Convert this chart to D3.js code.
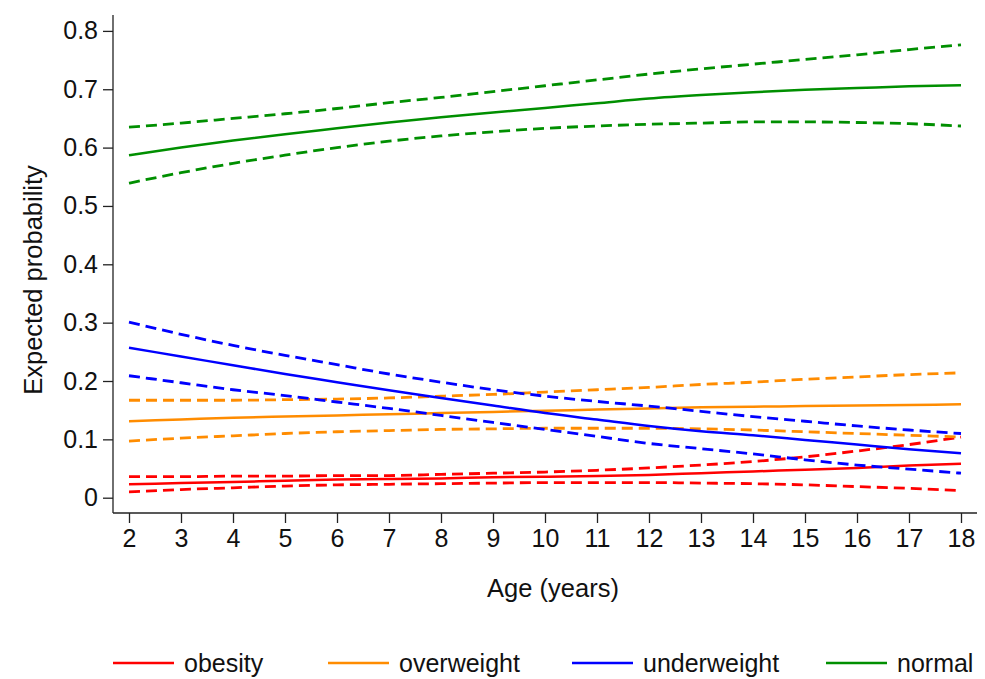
<!DOCTYPE html>
<html><head><meta charset="utf-8">
<script src="https://cdn.jsdelivr.net/npm/d3@7"></script>
<style>html,body{margin:0;padding:0;background:#fff;}svg{display:block;font-family:"Liberation Sans",Arial,Helvetica,sans-serif;}</style>
</head><body>
<svg id="chart" width="985" height="679"></svg>
<script>
const ages = [2,3,4,5,6,7,8,9,10,11,12,13,14,15,16,17,18];
const yTicks = [0,0.1,0.2,0.3,0.4,0.5,0.6,0.7,0.8];
const categories = ["obesity","overweight","underweight","normal"];
const colors = ["#ff0000","#ff8c00","#0000ff","#008f00"];

const obesityMean  = [0.023,0.025,0.027,0.029,0.031,0.032,0.033,0.035,0.036,0.037,0.039,0.042,0.045,0.048,0.051,0.055,0.058];
const obesityUpper = [0.036,0.036,0.037,0.037,0.038,0.038,0.040,0.042,0.044,0.047,0.051,0.056,0.062,0.070,0.080,0.091,0.104];
const obesityLower = [0.010,0.014,0.017,0.020,0.022,0.023,0.024,0.025,0.026,0.026,0.026,0.025,0.024,0.022,0.019,0.016,0.012];

const overweightMean  = [0.131,0.134,0.137,0.139,0.141,0.143,0.145,0.147,0.149,0.151,0.153,0.155,0.156,0.157,0.158,0.159,0.160];
const overweightUpper = [0.167,0.167,0.167,0.168,0.169,0.171,0.174,0.177,0.181,0.185,0.189,0.194,0.198,0.203,0.207,0.211,0.214];
const overweightLower = [0.097,0.102,0.106,0.110,0.113,0.115,0.117,0.118,0.119,0.119,0.119,0.118,0.116,0.113,0.110,0.107,0.104];

const underweightMean  = [0.257,0.242,0.227,0.212,0.198,0.184,0.171,0.158,0.145,0.134,0.123,0.114,0.107,0.099,0.091,0.083,0.076];
const underweightUpper = [0.301,0.280,0.261,0.244,0.228,0.212,0.198,0.185,0.174,0.165,0.157,0.148,0.139,0.131,0.123,0.116,0.110];
const underweightLower = [0.209,0.197,0.185,0.175,0.164,0.153,0.141,0.129,0.117,0.105,0.093,0.084,0.075,0.065,0.056,0.049,0.042];

const normalMean  = [0.587,0.600,0.612,0.623,0.633,0.643,0.652,0.660,0.668,0.676,0.684,0.690,0.695,0.699,0.702,0.705,0.707];
const normalUpper = [0.635,0.642,0.650,0.658,0.667,0.677,0.686,0.696,0.706,0.716,0.726,0.735,0.743,0.751,0.759,0.768,0.776];
const normalLower = [0.539,0.557,0.573,0.587,0.600,0.611,0.620,0.627,0.633,0.637,0.640,0.642,0.644,0.644,0.643,0.641,0.637];

const seriesSets = [
  {name:"obesity", mean:obesityMean, upper:obesityUpper, lower:obesityLower},
  {name:"overweight", mean:overweightMean, upper:overweightUpper, lower:overweightLower},
  {name:"underweight", mean:underweightMean, upper:underweightUpper, lower:underweightLower},
  {name:"normal", mean:normalMean, upper:normalUpper, lower:normalLower}
];

const svg = d3.select("#chart");
const axisLeftX = 113, axisBottomY = 513, axisTopY = 15, axisRightX = 977;
const x = d3.scaleLinear().domain([2,18]).range([129,961]);
const y = d3.scaleLinear().domain([0,0.8]).range([497.7,30.9]);
const fontSize = 25;

// Y axis
const gy = svg.append("g").attr("transform",`translate(${axisLeftX},0)`)
  .call(d3.axisLeft(y).tickValues(yTicks).tickSize(10).tickPadding(5).tickFormat(d => d===0 ? "0" : d3.format(".1f")(d)));
gy.select(".domain").remove();
gy.selectAll("line").attr("stroke","#222").attr("stroke-width",1.3);
gy.selectAll("text").attr("font-size",fontSize).attr("fill","#111").attr("font-family","'Liberation Sans',Arial,sans-serif");
svg.append("line").attr("x1",axisLeftX).attr("x2",axisLeftX).attr("y1",axisTopY).attr("y2",axisBottomY).attr("stroke","#222").attr("stroke-width",1.3);

// X axis
const gx = svg.append("g").attr("transform",`translate(0,${axisBottomY})`)
  .call(d3.axisBottom(x).tickValues(ages).tickSize(10).tickPadding(6).tickFormat(d3.format("d")));
gx.select(".domain").remove();
gx.selectAll("line").attr("stroke","#222").attr("stroke-width",1.3);
gx.selectAll("text").attr("font-size",fontSize).attr("fill","#111").attr("font-family","'Liberation Sans',Arial,sans-serif");
svg.append("line").attr("x1",axisLeftX).attr("x2",axisRightX).attr("y1",axisBottomY).attr("y2",axisBottomY).attr("stroke","#222").attr("stroke-width",1.3);

// Titles
svg.append("text").attr("x",553).attr("y",597).attr("text-anchor","middle").attr("font-size",25.5).attr("fill","#111").text("Age (years)");
svg.append("text").attr("transform","translate(42,280) rotate(-90)").attr("text-anchor","middle").attr("font-size",25.5).attr("fill","#111").text("Expected probability");

// Lines
const line = d3.line().x((d,i)=>x(ages[i])).y(d=>y(d)).curve(d3.curveMonotoneX);
const plot = svg.append("g");
seriesSets.forEach((s,k)=>{
  [s.upper, s.lower].forEach(arr=>{
    plot.append("path").attr("d",line(arr)).attr("fill","none").attr("stroke",colors[k])
      .attr("stroke-width",2.8).attr("stroke-dasharray","11,6");
  });
  plot.append("path").attr("d",line(s.mean)).attr("fill","none").attr("stroke",colors[k]).attr("stroke-width",2.5);
});

// Legend
const legendX = [113,328,572,826];
const leg = svg.append("g");
categories.forEach((c,k)=>{
  leg.append("line").attr("x1",legendX[k]).attr("x2",legendX[k]+61).attr("y1",663).attr("y2",663)
    .attr("stroke",colors[k]).attr("stroke-width",2.5);
  leg.append("text").attr("x",legendX[k]+71).attr("y",672).attr("font-size",25).attr("fill","#111").text(c);
});
</script>
</body></html>
